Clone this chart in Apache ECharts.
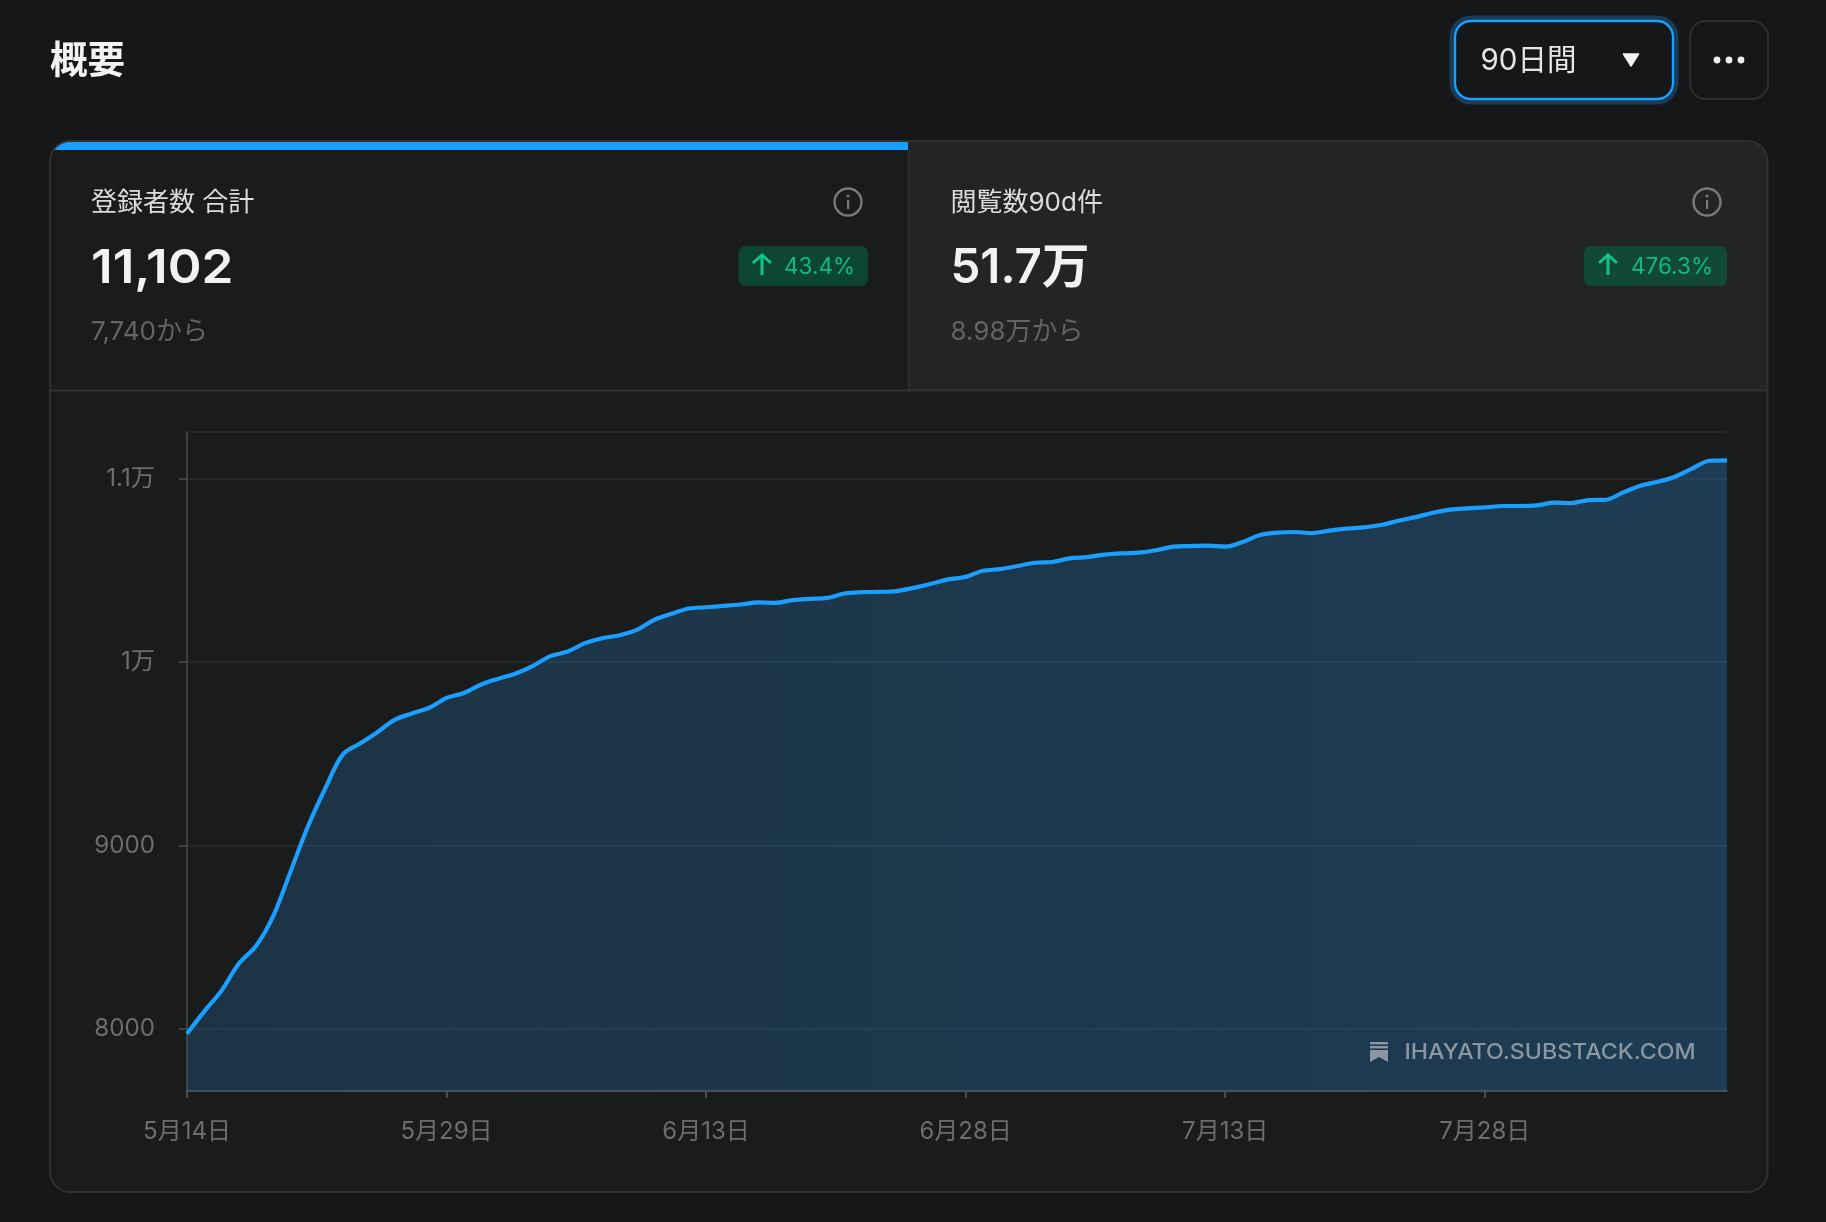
<!DOCTYPE html>
<html lang="ja">
<head>
<meta charset="utf-8">
<title>概要</title>
<style>html,body{margin:0;padding:0;background:#161719}#c{width:1826px;height:1222px}</style>
<script src="https://cdn.jsdelivr.net/npm/echarts@6/dist/echarts.min.js"></script>
</head>
<body>
<div id="c"></div>
<script>
const dates = [
"5月14日","5月15日","5月16日","5月17日","5月18日","5月19日","5月20日","5月21日","5月22日","5月23日","5月24日","5月25日","5月26日","5月27日","5月28日","5月29日","5月30日","5月31日",
"6月1日","6月2日","6月3日","6月4日","6月5日","6月6日","6月7日","6月8日","6月9日","6月10日","6月11日","6月12日","6月13日","6月14日","6月15日","6月16日","6月17日","6月18日","6月19日","6月20日","6月21日","6月22日","6月23日","6月24日","6月25日","6月26日","6月27日","6月28日","6月29日","6月30日",
"7月1日","7月2日","7月3日","7月4日","7月5日","7月6日","7月7日","7月8日","7月9日","7月10日","7月11日","7月12日","7月13日","7月14日","7月15日","7月16日","7月17日","7月18日","7月19日","7月20日","7月21日","7月22日","7月23日","7月24日","7月25日","7月26日","7月27日","7月28日","7月29日","7月30日","7月31日",
"8月1日","8月2日","8月3日","8月4日","8月5日","8月6日","8月7日","8月8日","8月9日","8月10日","8月11日"];
const subscribers = [
7971,8093,8207,8354,8451,8617,8861,9105,9312,9495,
9556,9617,9685,9720,9751,9805,9832,9878,9910,9938,
9980,10033,10058,10104,10131,10147,10176,10231,10264,10293,
10300,10307,10315,10326,10324,10339,10346,10351,10375,10382,
10384,10388,10406,10428,10452,10466,10499,10508,10525,10543,
10547,10567,10574,10587,10594,10598,10611,10631,10634,10636,
10631,10656,10694,10707,10711,10705,10718,10729,10736,10749,
10772,10792,10816,10833,10840,10845,10853,10853,10856,10871,
10869,10885,10887,10927,10964,10985,11013,11058,11100,11102];
const yTicks = [8000,9000,10000,11000];
const yTickLabels = ["8000","9000","1万","1.1万"];
const pageTitle = "概要";
const rangeLabel = "90日間";
const tile1 = {label:"登録者数 合計", value:"11,102", from:"7,740から", delta:"43.4%"};
const tile2 = {label:"閲覧数90d件", value:"51.7万", from:"8.98万から", delta:"476.3%"};
const watermark = "IHAYATO.SUBSTACK.COM";

const FF = "Inter, 'Noto Sans CJK JP', sans-serif";
const BG = "#161719", BLUE = "#1a9fff", BORDER = "#2e3032", MUTED = "#626467", AXISTXT = "#6b6d70";

function txt(x,y,text,size,color,weight,align,family){
  return {type:"text",z:5,x:x,y:y,silent:true,style:{text:text,fill:color,font:(weight||400)+" "+size+"px "+(family||FF),textAlign:align||"left",textVerticalAlign:"middle"}};
}
function info(cx,cy){
  return [
    {type:"circle",z:5,silent:true,shape:{cx:cx,cy:cy,r:13.5},style:{fill:"none",stroke:"#77797b",lineWidth:2.4}},
    {type:"rect",z:5,silent:true,shape:{x:cx-1,y:cy-2,width:2.2,height:9},style:{fill:"#77797b"}},
    {type:"circle",z:5,silent:true,shape:{cx:cx,cy:cy-6,r:1.5},style:{fill:"#77797b"}}
  ];
}
function badge(x,w,ax,tx,text,fill){
  return [
    {type:"rect",z:5,silent:true,shape:{x:x,y:246,width:w,height:40,r:7},style:{fill:fill}},
    {type:"polyline",z:5,silent:true,shape:{points:[[ax-9,263],[ax,255],[ax+9,263]]},style:{fill:"none",stroke:"#12c587",lineWidth:3}},
    {type:"line",z:5,silent:true,shape:{x1:ax,y1:255,x2:ax,y2:275},style:{stroke:"#12c587",lineWidth:3}},
    txt(tx,267,text,22.5,"#12b981",400)
  ];
}
const chrome = [
  {type:"rect",z:-10,silent:true,shape:{x:50,y:141,width:1717.5,height:1051,r:20},style:{fill:"#1a1c1c"}},
  {type:"rect",z:-9,silent:true,shape:{x:908,y:141,width:859.5,height:249.5,r:[0,20,0,0]},style:{fill:"#232524"}},
  {type:"rect",z:-9,silent:true,shape:{x:50,y:141,width:858,height:30,r:[20,0,0,0]},style:{fill:BLUE}},
  {type:"rect",z:-8,silent:true,shape:{x:51,y:150,width:857,height:240},style:{fill:"#1a1c1c"}},
  {type:"rect",z:-7,silent:true,shape:{x:50,y:141,width:1717.5,height:1051,r:20},style:{fill:"none",stroke:BORDER,lineWidth:2}},
  {type:"line",z:-7,silent:true,shape:{x1:50,y1:390.5,x2:1767,y2:390.5},style:{stroke:BORDER,lineWidth:2}},
  {type:"line",z:-7,silent:true,shape:{x1:908.5,y1:150,x2:908.5,y2:390},style:{stroke:BORDER,lineWidth:1.5}},
  {type:"line",z:-1,silent:true,shape:{x1:187,y1:432,x2:1727,y2:432},style:{stroke:"#2a2c2c",lineWidth:1.5}},

  txt(50,62,pageTitle,37.5,"#f2f2f2",700),

  {type:"rect",z:4,silent:true,shape:{x:1455,y:21,width:218,height:78,r:16},style:{fill:BG,stroke:"#1b3a55",lineWidth:11}},
  {type:"rect",z:5,silent:true,shape:{x:1455,y:21,width:218,height:78,r:16},style:{fill:BG,stroke:BLUE,lineWidth:2.4}},
  txt(1480.5,61,rangeLabel,29.5,"#e6e6e6",400),
  {type:"polygon",z:5,silent:true,shape:{points:[[1623.5,54],[1638.5,54],[1631,66]]},style:{fill:"#f2f2f2",stroke:"#f2f2f2",lineWidth:1.5,lineJoin:"round"}},
  {type:"rect",z:5,silent:true,shape:{x:1690,y:21,width:78,height:78,r:16},style:{fill:BG,stroke:"#2c2e31",lineWidth:2}},
  {type:"circle",z:5,silent:true,shape:{cx:1717,cy:60,r:3.4},style:{fill:"#f0f0f0"}},
  {type:"circle",z:5,silent:true,shape:{cx:1729,cy:60,r:3.4},style:{fill:"#f0f0f0"}},
  {type:"circle",z:5,silent:true,shape:{cx:1741,cy:60,r:3.4},style:{fill:"#f0f0f0"}},

  txt(91,203,tile1.label,26,"#dcdcdc",400),
  Object.assign(txt(91,269,tile1.value,47,"#f2f2f2",600),{scaleX:1.09}),
  txt(91,332,tile1.from,26,MUTED,400),
  ...info(848,202),
  ...badge(738.5,129.5,762,784,tile1.delta,"#0c4633"),

  txt(950.5,203,tile2.label,26,"#dcdcdc",400),
  txt(950.5,269,tile2.value,47.5,"#f2f2f2",600),
  txt(950.5,332,tile2.from,26,MUTED,400),
  ...info(1707,202),
  ...badge(1584,143,1608,1631,tile2.delta,"#114838"),

  {type:"polygon",z:60,silent:true,shape:{points:[[1370,1050],[1388,1050],[1388,1062],[1379,1057],[1370,1062]]},style:{fill:"#8a97a3"}},
  {type:"rect",z:60,silent:true,shape:{x:1370,y:1042,width:18,height:2.4},style:{fill:"#8a97a3"}},
  {type:"rect",z:60,silent:true,shape:{x:1370,y:1046,width:18,height:2.4},style:{fill:"#8a97a3"}},
  Object.assign(txt(1404.5,1053,watermark,21.5,"#8a97a3",500),{z:60,scaleX:1.078})
];

const chart = echarts.init(document.getElementById("c"),null,{renderer:"canvas",width:1826,height:1222});
chart.setOption({
  backgroundColor:BG,
  animation:false,
  textStyle:{fontFamily:FF},
  grid:{left:187,right:99,top:432,bottom:131,containLabel:false},
  xAxis:{
    type:"category",boundaryGap:false,data:dates,
    axisLine:{show:true,onZero:false,lineStyle:{color:"#565a5e",width:1.5}},
    axisTick:{show:true,length:7,interval:14,alignWithLabel:true,lineStyle:{color:"#565a5e",width:1.5}},
    axisLabel:{show:true,interval:14,margin:29,color:AXISTXT,fontSize:24,fontFamily:FF,hideOverlap:false},
    splitLine:{show:false}
  },
  yAxis:{
    type:"value",min:7658,max:11257,
    axisLine:{show:true,lineStyle:{color:"#4a4d50",width:1.5}},
    axisTick:{show:true,length:8,customValues:yTicks,lineStyle:{color:"#4a4d50",width:1.5}},
    axisLabel:{show:true,margin:32,color:AXISTXT,fontSize:24.2,fontFamily:FF,customValues:yTicks,padding:[2,0,0,0],
      formatter:v=>yTickLabels[yTicks.indexOf(v)]},
    splitLine:{show:true,lineStyle:{color:"#2a2c2c",width:1.5}}
  },
  series:[{
    type:"line",data:subscribers,smooth:0.35,showSymbol:false,symbol:"none",clip:true,
    lineStyle:{color:BLUE,width:4.2,cap:"butt",join:"round"},
    areaStyle:{origin:"start",color:{type:"linear",x:0,y:0,x2:1,y2:0,colorStops:[
      {offset:0,color:"rgba(36,115,180,0.38)"},{offset:1,color:"rgba(36,125,195,0.47)"}]}},
    z:3
  }],
  graphic:{elements:chrome}
});
</script>
</body>
</html>
